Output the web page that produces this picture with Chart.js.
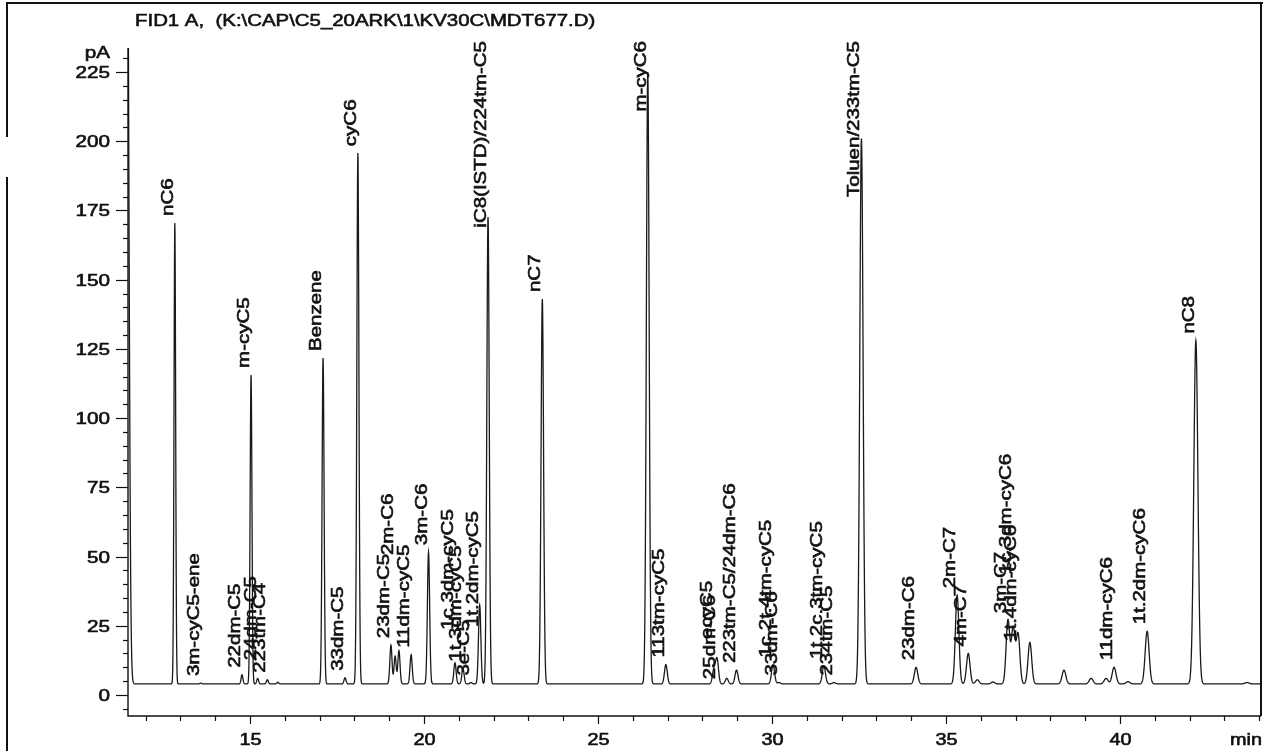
<!DOCTYPE html>
<html>
<head>
<meta charset="utf-8">
<title>FID1 A chromatogram</title>
<script src="https://cdn.jsdelivr.net/npm/chart.js@4.4.1/dist/chart.umd.min.js"></script>
<style>
  html, body { margin: 0; padding: 0; background: #fff; }
  #chrom { display: block; }
</style>
</head>
<body>
<canvas id="chrom" width="1263" height="751"></canvas>
<script>
// Peak table: retention time (min), apex signal (pA), compound name ('' = unnamed)
const peakNames = [
  'nC6', '3m-cyC5-ene', '22dm-C5', 'm-cyC5', '24dm-C5', '223tm-C4', '',
  'Benzene', '33dm-C5', 'cyC6', '23dm-C5', '2m-C6', '', '11dm-cyC5', '3m-C6',
  '1c.3dm-cyC5', '1t.3dm-cyC5', '3e-C5', '1t.2dm-cyC5', 'iC8(ISTD)/224tm-C5',
  'nC7', 'm-cyC6', '113tm-cyC5', 'ecyC5', '25dm-C6', '', '223tm-C5/24dm-C6',
  '1c.2t.4tm-cyC5', '33dm-C6', '1t.2c.3tm-cyC5', '234tm-C5', 'Toluen/233tm-C5',
  '23dm-C6', '2m-C7', '4m-C7', '', '', '3m-C7', '1c.3dm-cyC6', '1t.4dm-cyC6', '',
  '', '', '', '11dm-cyC6', '', '1t.2dm-cyC6', 'nC8', ''
];
const peakTimes = [
  12.84, 13.58, 14.77, 15.03, 15.22, 15.50, 15.80,
  17.10, 17.73, 18.10, 19.05, 19.17, 19.28, 19.63, 20.13,
  20.89, 21.12, 21.35, 21.60, 21.84,
  23.40, 26.43, 26.95, 28.33, 28.42, 28.70, 28.98,
  30.03, 30.20, 31.49, 31.78, 32.57,
  34.14, 35.32, 35.64, 35.90, 36.35, 36.78, 36.93, 37.07, 37.41,
  38.39, 39.17, 39.60, 39.83, 40.23, 40.78, 42.18, 43.65
];
const peakHeights = [
  170.5, 4.3, 7.3, 115.6, 6.0, 5.5, 4.6,
  121.7, 6.2, 195.7, 18.0, 14.0, 16.0, 14.5, 51.6,
  11.6, 9.5, 4.5, 32.5, 172.6,
  143.0, 225.0, 11.0, 9.0, 13.0, 6.0, 9.0,
  11.0, 4.5, 10.5, 4.5, 201.0,
  10.0, 36.0, 15.0, 5.5, 4.7, 27.0, 24.0, 22.0, 19.0,
  9.0, 6.0, 6.0, 10.0, 4.8, 23.0, 128.0, 4.5
];
// signal level (pA) where a stacked name starts instead of at its apex
const labelAt = {
  '24dm-C5': 10, '2m-C6': 48, '1c.3dm-cyC5': 21, '1t.2dm-cyC5': 22,
  'ecyC5': 17.7, '25dm-C6': 3.2, '1c.3dm-cyC6': 41, '1t.4dm-cyC6': 17
};
const baselinePA = 4.0;
const solventTime = 11.47;
const solventHeight = 300;

const xMajorTicks = [15, 20, 25, 30, 35, 40];
const yMajorTicks = [0, 25, 50, 75, 100, 125, 150, 175, 200, 225];
const titleText = 'FID1 A,  (K:\\CAP\\C5_20ARK\\1\\KV30C\\MDT677.D)';

const FONT = '"Liberation Sans", Arial, sans-serif';
const INK = '#111';

// peaks get wider later in the run
function peakSigma(t) { return 0.008 + 0.0012 * t; }

function buildTrace() {
  const times = [];
  for (let i = 0; i <= 6540; i++) times.push(11.40 + i * 0.005);
  peakTimes.forEach(t => times.push(t));
  times.sort((a, b) => a - b);

  return times.map(t => {
    let v = baselinePA;
    const ds = (t - solventTime) / 0.05;
    if (Math.abs(ds) < 10) v += solventHeight * Math.exp(-0.5 * ds * ds);
    for (let i = 0; i < peakTimes.length; i++) {
      const d = (t - peakTimes[i]) / peakSigma(peakTimes[i]);
      if (Math.abs(d) < 9) v += (peakHeights[i] - baselinePA) * Math.exp(-0.5 * d * d);
    }
    return { x: t, y: v };
  });
}

// text drawn wide and a little heavy, the way the plotter prints it
function wideText(ctx, str, x, y, size, stretch, align, baseline) {
  ctx.save();
  ctx.translate(x, y);
  ctx.scale(stretch, 1);
  ctx.font = size + 'px ' + FONT;
  ctx.textAlign = align;
  ctx.textBaseline = baseline;
  ctx.lineWidth = 0.6;
  ctx.fillText(str, 0, 0);
  ctx.strokeText(str, 0, 0);
  ctx.restore();
}

const framePlugin = {
  id: 'chromFrame',
  afterDraw(chart) {
    const ctx = chart.ctx;
    const area = chart.chartArea;
    const xs = chart.scales.x;
    const ys = chart.scales.y;

    ctx.save();
    ctx.strokeStyle = INK;
    ctx.fillStyle = INK;

    // outer page frame
    ctx.lineWidth = 2;
    ctx.beginPath();
    ctx.moveTo(7, 751); ctx.lineTo(7, 177);
    ctx.moveTo(7, 137); ctx.lineTo(7, 3);
    ctx.lineTo(1263, 3);
    ctx.moveTo(area.right, 3); ctx.lineTo(area.right, area.bottom);
    ctx.stroke();

    // axes
    ctx.lineWidth = 1.4;
    ctx.beginPath();
    ctx.moveTo(area.left, area.top);
    ctx.lineTo(area.left, area.bottom);
    ctx.lineTo(area.right, area.bottom);
    ctx.stroke();

    // y ticks every 5 pA, labelled every 25
    ctx.lineWidth = 1.2;
    for (let v = -5; v <= 235; v += 5) {
      const py = Math.round(ys.getPixelForValue(v)) + 0.5;
      if (py < area.top - 1 || py > area.bottom) continue;
      const major = yMajorTicks.includes(v);
      ctx.beginPath();
      ctx.moveTo(area.left - (major ? 12 : 5), py);
      ctx.lineTo(area.left, py);
      ctx.stroke();
      if (major) wideText(ctx, String(v), area.left - 18, py + 1, 16.3, 1.27, 'right', 'middle');
    }
    wideText(ctx, 'pA', area.left - 18, area.top + 6, 16.3, 1.27, 'right', 'middle');

    // x ticks every minute, labelled every 5
    ctx.lineWidth = 1.2;
    for (let t = 12; t <= 44; t++) {
      const px = Math.round(xs.getPixelForValue(t)) + 0.5;
      const major = xMajorTicks.includes(t);
      ctx.beginPath();
      ctx.moveTo(px, area.bottom);
      ctx.lineTo(px, area.bottom + (major ? 8 : 5));
      ctx.stroke();
      if (major) wideText(ctx, String(t), px, area.bottom + 25, 16.3, 1.22, 'center', 'middle');
    }
    wideText(ctx, 'min', 1262, area.bottom + 25, 16.3, 1.22, 'right', 'middle');

    // title
    wideText(ctx, titleText, 135, 26, 17, 1.2, 'left', 'alphabetic');

    // peak names, rotated, starting just above each apex
    const size = 16;
    const stretch = 1.28;
    ctx.font = size + 'px ' + FONT;
    ctx.lineWidth = 0.6;
    peakNames.forEach((name, i) => {
      if (!name) return;
      const px = xs.getPixelForValue(peakTimes[i]);
      const level = (name in labelAt) ? labelAt[name] : peakHeights[i];
      let bottom = ys.getPixelForValue(level) - 7;
      const len = ctx.measureText(name).width * stretch;
      if (bottom - len < 41) bottom = 41 + len;
      ctx.save();
      ctx.translate(px - 2, bottom);
      ctx.rotate(-Math.PI / 2);
      ctx.scale(stretch, 1);
      ctx.textAlign = 'left';
      ctx.textBaseline = 'alphabetic';
      ctx.fillText(name, 0, 0);
      ctx.strokeText(name, 0, 0);
      ctx.restore();
    });

    ctx.restore();
  }
};

const chart = new Chart(document.getElementById('chrom'), {
  type: 'line',
  data: {
    datasets: [{
      data: buildTrace(),
      borderColor: '#1a1a1a',
      borderWidth: 1.3,
      pointRadius: 0,
      // a tiny tension keeps every sample in the path (no min/max fast path)
      tension: 0.000001,
      fill: false
    }]
  },
  options: {
    responsive: false,
    animation: false,
    parsing: false,
    normalized: true,
    events: [],
    layout: { padding: { left: 128, right: 2, top: 48, bottom: 35 } },
    plugins: { legend: { display: false }, tooltip: { enabled: false } },
    scales: {
      x: { type: 'linear', min: 11.4943, max: 44.0517, display: false },
      y: { type: 'linear', min: -7.584, max: 233.67, display: false }
    }
  },
  plugins: [framePlugin]
});
</script>
</body>
</html>
